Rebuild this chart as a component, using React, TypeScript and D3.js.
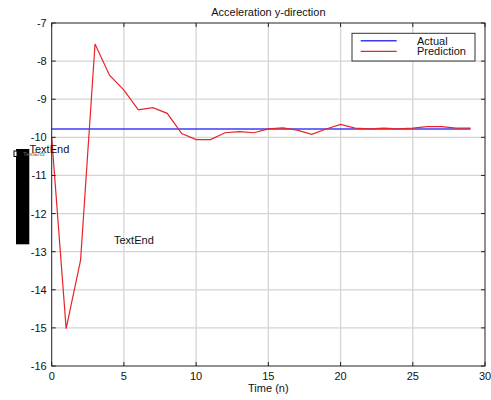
import React from "react";
import * as d3 from "d3";

const timeSteps = d3.range(0, 30);
const prediction = [
  -10.0, -15.02, -13.22, -7.55, -8.37, -8.76, -9.28, -9.22, -9.37, -9.9,
  -10.06, -10.06, -9.88, -9.85, -9.88, -9.78, -9.75, -9.81, -9.92, -9.78,
  -9.66, -9.76, -9.78, -9.76, -9.78, -9.76, -9.72, -9.72, -9.76, -9.76,
];
const actualValue = -9.78;
const actual = timeSteps.map(() => actualValue);
const xTicks = [0, 5, 10, 15, 20, 25, 30];
const yTicks = [-7, -8, -9, -10, -11, -12, -13, -14, -15, -16];
const legendLabels = ["Actual", "Prediction"];

const W = 491;
const H = 400;
const FONT = "'Liberation Sans', Arial, Helvetica, sans-serif";

export default function App() {
  const x = d3.scaleLinear().domain([0, 30]).range([51.7, 485]);
  const y = d3.scaleLinear().domain([-7, -16]).range([23, 366]);
  const line = d3
    .line<number>()
    .x((_, i) => x(timeSteps[i]))
    .y((d) => y(d));

  const x0 = x(0), x1 = x(30), y0 = y(-7), y1 = y(-16);
  const tickLen = 4;

  return (
    <div style={{ position: "absolute", left: 0, top: 0 }}>
      <svg width={W} height={H} style={{ display: "block", background: "#fff" }} fontFamily={FONT}>
        {/* grid */}
        {xTicks.slice(1, -1).map((t) => (
          <line key={"gx" + t} x1={x(t)} x2={x(t)} y1={y0} y2={y1} stroke="#d4d4d4" strokeWidth={1.3} />
        ))}
        {yTicks.slice(1, -1).map((t) => (
          <line key={"gy" + t} x1={x0} x2={x1} y1={y(t)} y2={y(t)} stroke="#d4d4d4" strokeWidth={1.3} />
        ))}
        {/* lines */}
        <path d={line(actual) || ""} fill="none" stroke="#3c3cf2" strokeWidth={1.6} />
        <path d={line(prediction) || ""} fill="none" stroke="#e8242a" strokeWidth={1.2} />
        {/* frame */}
        <rect x={x0} y={y0} width={x1 - x0} height={y1 - y0} fill="none" stroke="#222" strokeWidth={1} />
        {/* ticks */}
        {xTicks.map((t) => (
          <g key={"tx" + t}>
            <line x1={x(t)} x2={x(t)} y1={y1} y2={y1 - tickLen} stroke="#222" />
            <line x1={x(t)} x2={x(t)} y1={y0} y2={y0 + tickLen} stroke="#222" />
            <text x={x(t)} y={y1 + 14} fontSize={11} textAnchor="middle" fill="#111">
              {t}
            </text>
          </g>
        ))}
        {yTicks.map((t) => (
          <g key={"ty" + t}>
            <line x1={x0} x2={x0 + tickLen} y1={y(t)} y2={y(t)} stroke="#222" />
            <line x1={x1} x2={x1 - tickLen} y1={y(t)} y2={y(t)} stroke="#222" />
            <text x={x0 - 5} y={y(t) + 4} fontSize={11} textAnchor="end" fill="#111">
              {t}
            </text>
          </g>
        ))}
        {/* title & axis label */}
        <text x={(x0 + x1) / 2} y={16} fontSize={11} textAnchor="middle" fill="#111">
          Acceleration y-direction
        </text>
        <text x={(x0 + x1) / 2} y={392} fontSize={11} textAnchor="middle" fill="#111">
          Time (n)
        </text>
        {/* legend */}
        <rect x={352} y={33.3} width={123} height={27.7} fill="#fff" stroke="#333" strokeWidth={1} />
        <line x1={360.7} x2={396.7} y1={40.7} y2={40.7} stroke="#3c3cf2" strokeWidth={1.4} />
        <line x1={360.7} x2={396.7} y1={51.3} y2={51.3} stroke="#e8242a" strokeWidth={1.2} />
        <text x={417} y={44.5} fontSize={11} fill="#111">{legendLabels[0]}</text>
        <text x={417} y={55} fontSize={11} fill="#111">{legendLabels[1]}</text>
        {/* artifacts */}
        <rect x={16} y={149} width={13.3} height={95.3} fill="#000" />
        <rect x={14} y={151} width={3} height={5.5} fill="#fff" stroke="#000" strokeWidth={1} />
        <text x={23} y={156} fontSize={6} fill="#666">TextEnd</text>
        <text x={29.5} y={153} fontSize={11} fill="#111">TextEnd</text>
        <text x={114} y={244} fontSize={11} fill="#111">TextEnd</text>
      </svg>
    </div>
  );
}
